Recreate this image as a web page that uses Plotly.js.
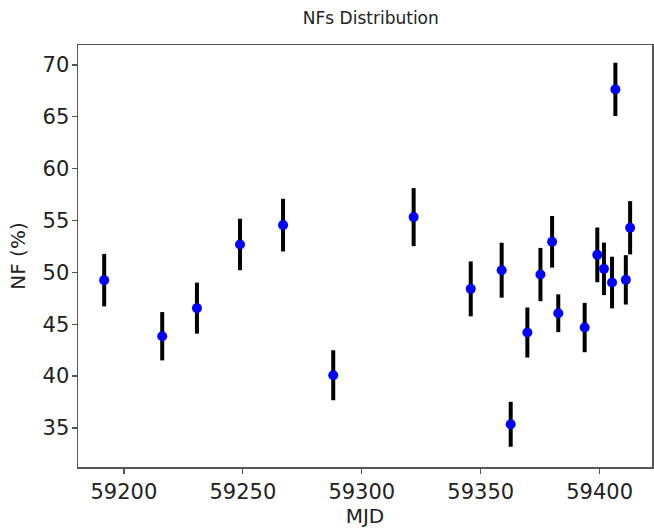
<!DOCTYPE html>
<html>
<head>
<meta charset="utf-8">
<script src="https://cdn.plot.ly/plotly-3.0.1.min.js"></script>
<style>html,body{margin:0;padding:0;background:#fff;}#chart{width:654px;height:531px;}</style>
</head>
<body>
<div id="chart"></div>
<script>
const mjd = [59191.7, 59216.1, 59230.7, 59248.8, 59266.9, 59288.0, 59321.8, 59345.8, 59358.8, 59362.6, 59369.6, 59375.1, 59380.0, 59382.6, 59393.7, 59399.0, 59401.8, 59405.2, 59406.6, 59411.0, 59412.8];
const nf = [49.25, 43.84, 46.55, 52.69, 54.56, 40.08, 55.33, 48.41, 50.21, 35.35, 44.2, 49.79, 52.95, 46.06, 44.68, 51.69, 50.34, 49.02, 67.65, 49.28, 54.30];
const nfErr = [2.53, 2.33, 2.46, 2.48, 2.54, 2.41, 2.8, 2.65, 2.65, 2.17, 2.41, 2.57, 2.49, 1.82, 2.38, 2.64, 2.53, 2.49, 2.57, 2.38, 2.57];
const xTicks = [59200, 59250, 59300, 59350, 59400];
const yTicks = [35, 40, 45, 50, 55, 60, 65, 70];

const font = 'DejaVu Sans, sans-serif';
const trace = {
  x: mjd, y: nf, type: 'scatter', mode: 'markers',
  marker: {color: '#0000ff', size: 10},
  error_y: {type: 'data', array: nfErr, visible: true, color: '#000000', thickness: 4, width: 0}
};
const layout = {
  width: 654, height: 531,
  margin: {l: 78, r: 2, t: 45, b: 64},
  paper_bgcolor: '#fff', plot_bgcolor: '#fff',
  showlegend: false,
  title: {text: 'NFs Distribution', font: {family: font, size: 17, color: '#222'}, x: 0.567, xanchor: 'center', y: 0.966, yanchor: 'middle'},
  xaxis: {
    range: [59180.7, 59422], tickvals: xTicks, ticktext: xTicks.map(String),
    showgrid: false, zeroline: false, showline: true, mirror: true, linecolor: '#555', linewidth: 1.5,
    ticks: 'outside', ticklen: 5, tickcolor: '#555', tickwidth: 1.2,
    tickfont: {family: font, size: 21, color: '#222'},
    title: {text: 'MJD', font: {family: font, size: 20, color: '#222'}, standoff: 2}
  },
  yaxis: {
    range: [31.23, 71.93], tickvals: yTicks, ticktext: yTicks.map(String),
    showgrid: false, zeroline: false, showline: true, mirror: true, linecolor: '#555', linewidth: 1.5,
    ticks: 'outside', ticklen: 5, tickcolor: '#555', tickwidth: 1.2, ticklabelstandoff: -2,
    tickfont: {family: font, size: 21, color: '#222'},
    title: {text: 'NF (%)', font: {family: font, size: 20, color: '#222'}, standoff: 11}
  }
};
Plotly.newPlot('chart', [trace], layout, {displayModeBar: false, staticPlot: true});
</script>
</body>
</html>
